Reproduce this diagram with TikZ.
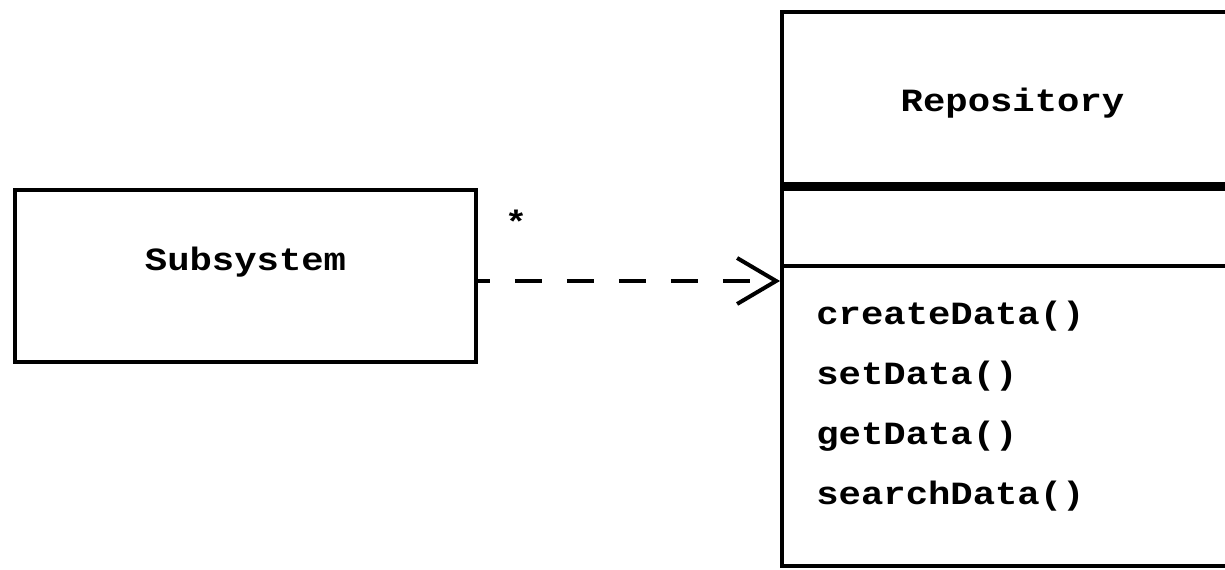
\documentclass[tikz,border=0pt]{standalone}
\usepackage{fontspec}
\setmonofont{Liberation Mono}
\usetikzlibrary{positioning, arrows.meta}

\begin{document}
\begin{tikzpicture}[
    x=0.02cm, y=-0.02cm,
    classbox/.style={rectangle, draw, line width=0.08cm, minimum width=9.22cm, inner sep=0pt},
    classtext/.style={font=\fontsize{21.2}{25}\selectfont\ttfamily\bfseries, inner sep=0pt,
        yscale=0.87, transform shape},
    depend/.style={line width=0.08cm, dash pattern=on 0.54cm off 0.5cm, dash phase=0.3cm,
        -{Straight Barb[length=0.78cm, width=0.92cm]}}
]
    \clip (0,0) rectangle (1225,570);

    % Classes
    \node[classbox, minimum height=3.44cm] (sub) at (245.5,276) {};
    \node[classtext, anchor=base] (subname) at (245.5,271) {Subsystem};

    \node[classbox, minimum height=11.08cm] (repo) at (1012.5,289) {};
    \node[classtext, anchor=base] (reponame) at (1012.5,112) {Repository};

    % Compartments
    \draw[line width=0.18cm] (repo.west |- 0,187) -- (repo.east |- 0,187);
    \draw[line width=0.08cm] (repo.west |- 0,266) -- (repo.east |- 0,266);

    % Operations
    \node[classtext, anchor=base west] (create) at (816,325) {createData()};
    \node[classtext, anchor=base west] (set) at (816,385) {setData()};
    \node[classtext, anchor=base west] (get) at (816,445) {getData()};
    \node[classtext, anchor=base west] (search) at (816,505) {searchData()};

    % Dependency
    \draw[depend] (sub.east |- 0,281) -- (repo.west |- 0,281);
    \node[classtext] (mult) at (516,222) {*};
\end{tikzpicture}
\end{document}
